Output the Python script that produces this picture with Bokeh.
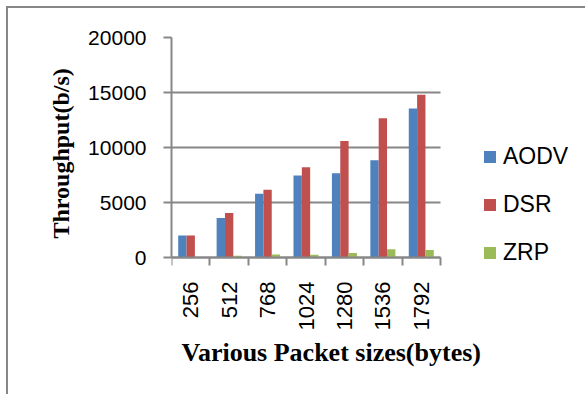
import math
import numpy as np
from bokeh.plotting import figure
from bokeh.models import Range1d, FixedTicker, Legend, LegendItem, ColumnDataSource, Title, Label
from bokeh.embed import file_html
from bokeh.resources import INLINE

# Throughput (b/s) per routing protocol for each packet size
packet_sizes = ["256", "512", "768", "1024", "1280", "1536", "1792"]
aodv = [2000, 3600, 5800, 7450, 7650, 8850, 13550]
dsr = [2000, 4050, 6150, 8200, 10600, 12650, 14800]
zrp = [20, 150, 270, 240, 420, 760, 680]

series_names = ["AODV", "DSR", "ZRP"]
series_colors = ["#4F81BD", "#C0504D", "#9BBB59"]
y_ticks = [0, 5000, 10000, 15000, 20000]
y_max = 20000

GRID = "#878787"
n = len(packet_sizes)
centers = np.arange(n) + 0.5
bar_w = 0.217
offsets = [-bar_w, 0.0, bar_w]

# The frame covers the bar area plus room for the legend (right) and the
# category labels (below); axes and grid are bounded to the bar area.
W, H = 579, 388
LEFT, RIGHT, TOP, BOTTOM = 163, 2, 29, 2
frame_w = W - LEFT - RIGHT
frame_h = H - TOP - BOTTOM
plot_w, plot_h = 269, 220          # pixel size of the bar area
x_end = frame_w / (plot_w / n)
y_start = -(frame_h - plot_h) * y_max / plot_h

p = figure(width=W, height=H, output_backend="svg", toolbar_location=None,
           x_range=Range1d(0, x_end), y_range=Range1d(y_start, y_max),
           min_border_left=LEFT, min_border_right=RIGHT,
           min_border_top=TOP, min_border_bottom=BOTTOM)
p.margin = (6, 0, 0, 6)
p.styles = {"border-top": f"2px solid {GRID}", "border-left": f"2px solid {GRID}"}
p.outline_line_color = None
p.background_fill_color = "white"
p.border_fill_color = "white"

renderers = []
for name, vals, color, off in zip(series_names, [aodv, dsr, zrp], series_colors, offsets):
    src = ColumnDataSource(dict(x=centers + off, top=vals))
    r = p.vbar(x="x", top="top", bottom=0, width=bar_w, source=src,
               fill_color=color, line_color=None)
    renderers.append(r)

# x axis at zero: labels at group centres, tick marks on group boundaries
p.xaxis.fixed_location = 0
p.xaxis.ticker = FixedTicker(ticks=list(centers), minor_ticks=list(range(n + 1)))
p.xaxis.bounds = (0, n)
p.xaxis.major_label_overrides = {float(c): lab for c, lab in zip(centers, packet_sizes)}
p.xaxis.major_label_orientation = math.pi / 2
p.xaxis.major_tick_out = 0
p.xaxis.major_tick_in = 0
p.xaxis.minor_tick_out = 8
p.xaxis.minor_tick_in = 0
p.xaxis.minor_tick_line_color = GRID
p.xaxis.minor_tick_line_width = 2
p.xaxis.major_label_standoff = 16
p.xaxis.major_label_text_font = "Liberation Sans"
p.xaxis.major_label_text_font_size = "22px"
p.xaxis.major_label_text_color = "black"

x_title = Label(x=0, y=0, x_offset=10, y_offset=-95, text="Various Packet sizes(bytes)",
                text_align="left", text_baseline="middle",
                text_font="Liberation Serif", text_font_style="bold",
                text_font_size="26px", text_color="black")
p.add_layout(x_title)

# y axis
p.yaxis.ticker = FixedTicker(ticks=y_ticks, minor_ticks=[])
p.yaxis.bounds = (0, y_max)
p.yaxis.major_tick_out = 8
p.yaxis.major_tick_in = 0
p.yaxis.major_tick_line_color = GRID
p.yaxis.major_tick_line_width = 2
p.yaxis.major_label_standoff = 17
p.yaxis.major_label_text_font = "Liberation Sans"
p.yaxis.major_label_text_font_size = "21px"
p.yaxis.major_label_text_color = "black"

y_title = Title(text="Throughput(b/s)", align="left", offset=frame_h - plot_h + 19,
                standoff=24, text_font="Liberation Serif", text_font_style="bold",
                text_font_size="24px", text_color="black")
p.add_layout(y_title, "left")

for ax in (p.xaxis, p.yaxis):
    ax.axis_line_color = GRID
    ax.axis_line_width = 2

p.xgrid.visible = False
p.ygrid.ticker = FixedTicker(ticks=y_ticks, minor_ticks=[])
p.ygrid.cross_bounds = (0, n)
p.ygrid.grid_line_color = GRID
p.ygrid.grid_line_width = 2

legend = Legend(items=[LegendItem(label=nm, renderers=[r]) for nm, r in zip(series_names, renderers)],
                location=(311, frame_h - plot_h - 9), orientation="vertical",
                glyph_width=15, glyph_height=15, label_height=15, spacing=21,
                label_standoff=6, padding=0, margin=0,
                border_line_color=None, background_fill_alpha=0,
                label_text_font="Liberation Sans", label_text_font_size="23px",
                label_text_color="black")
p.add_layout(legend)

open("out.html", "w").write(file_html(p, INLINE))
